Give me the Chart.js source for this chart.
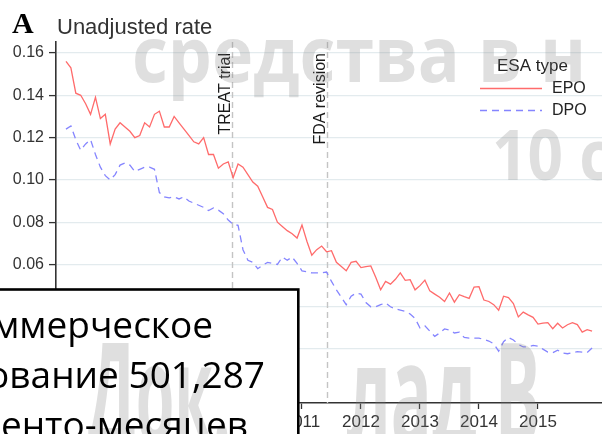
<!DOCTYPE html>
<html>
<head>
<meta charset="utf-8">
<script src="https://cdn.jsdelivr.net/npm/chart.js@4/dist/chart.umd.min.js"></script>
<style>
  html, body { margin: 0; padding: 0; background: #fff; }
  #wrap { position: relative; width: 602px; height: 434px; overflow: hidden; }
</style>
</head>
<body>
<div id="wrap"><canvas id="chart" width="602" height="434"></canvas></div>
<script>
// Monthly unadjusted rate, Jan 2007 - Dec 2015
const startYear = 2007;
const epoRate = [
    0.156, 0.153, 0.141, 0.140, 0.136, 0.131, 0.139, 0.129, 0.131, 0.117, 0.124, 0.127,
    0.125, 0.123, 0.120, 0.121, 0.127, 0.125, 0.131, 0.1325, 0.125, 0.125, 0.130, 0.127,
    0.124, 0.121, 0.118, 0.117, 0.120, 0.112, 0.112, 0.1055, 0.1075, 0.1085, 0.101, 0.1075,
    0.106, 0.1025, 0.099, 0.097, 0.092, 0.087, 0.086, 0.080, 0.078, 0.076, 0.0745, 0.0725,
    0.0787, 0.071, 0.0644, 0.067, 0.0687, 0.066, 0.0665, 0.061, 0.059, 0.057, 0.061, 0.0615,
    0.0585, 0.059, 0.0593, 0.054, 0.048, 0.052, 0.0507, 0.053, 0.056, 0.0525, 0.0528, 0.048,
    0.050, 0.0526, 0.0475, 0.046, 0.0445, 0.0425, 0.0465, 0.0422, 0.0457, 0.0448, 0.044, 0.0493,
    0.0495, 0.0432, 0.0425, 0.041, 0.0384, 0.045, 0.0443, 0.0415, 0.0352, 0.0375, 0.0362, 0.035,
    0.0318, 0.0323, 0.0325, 0.0296, 0.0322, 0.030, 0.0315, 0.0325, 0.0316, 0.028, 0.0292, 0.0285
];
const dpoRate = [
    0.124, 0.1255, 0.119, 0.114, 0.117, 0.119, 0.112, 0.106, 0.102, 0.100, 0.1025, 0.107,
    0.108, 0.107, 0.104, 0.105, 0.106, 0.106, 0.105, 0.094, 0.092, 0.0915, 0.092, 0.091,
    0.092, 0.090, 0.089, 0.088, 0.087, 0.0855, 0.0867, 0.0857, 0.084, 0.081, 0.079, 0.0785,
    0.067, 0.062, 0.061, 0.058, 0.0597, 0.061, 0.0605, 0.060, 0.0635, 0.062, 0.0635, 0.0605,
    0.057, 0.0565, 0.056, 0.056, 0.056, 0.0564, 0.052, 0.048, 0.0445, 0.041, 0.045, 0.0465,
    0.046, 0.042, 0.040, 0.040, 0.041, 0.0418, 0.040, 0.039, 0.0384, 0.0378, 0.0366, 0.0345,
    0.030, 0.031, 0.0285, 0.026, 0.0276, 0.0295, 0.029, 0.0276, 0.028, 0.0255, 0.0252, 0.0252,
    0.0252, 0.0245, 0.0238, 0.0225, 0.019, 0.0235, 0.0255, 0.0243, 0.0222, 0.021, 0.021, 0.0217,
    0.0214, 0.020, 0.0186, 0.0183, 0.0195, 0.0181, 0.0178, 0.0183, 0.0188, 0.0186, 0.0184, 0.0205
];
const seriesNames = ['EPO', 'DPO'];
const yTicks = [0.02, 0.04, 0.06, 0.08, 0.10, 0.12, 0.14, 0.16];
const xTicks = [2007, 2008, 2009, 2010, 2011, 2012, 2013, 2014, 2015];
const eventNames = ['TREAT trial', 'FDA revision'];
const eventDates = [2009.81, 2011.42];
const boxLines = ['Коммерческое', 'страхование 501,287', 'пациенто-месяцев'];

function toPoints(values) {
    return values.map((v, i) => ({ x: startYear + i / 12, y: v }));
}

// Vertical dashed event lines with rotated labels
const eventLines = {
    id: 'eventLines',
    beforeDatasetsDraw(chart) {
        const ctx = chart.ctx;
        const area = chart.chartArea;
        const xs = chart.scales.x;
        ctx.save();
        eventDates.forEach((d, i) => {
            const px = Math.round(xs.getPixelForValue(d)) + 0.5;
            ctx.strokeStyle = '#c4c4c4';
            ctx.lineWidth = 1.4;
            ctx.setLineDash([6, 4]);
            ctx.beginPath();
            ctx.moveTo(px, area.top);
            ctx.lineTo(px, area.bottom);
            ctx.stroke();
            ctx.setLineDash([]);
            ctx.save();
            ctx.translate(px - 3, 53);
            ctx.rotate(-Math.PI / 2);
            ctx.font = '16px "Liberation Sans", Arial, sans-serif';
            ctx.fillStyle = '#1a1a1a';
            ctx.textAlign = 'right';
            ctx.textBaseline = 'alphabetic';
            ctx.fillText(eventNames[i], 0, 0);
            ctx.restore();
        });
        ctx.restore();
    }
};

// Title, legend, slide overlay
const overlay = {
    id: 'overlay',
    afterDraw(chart) {
        const ctx = chart.ctx;
        ctx.save();
        ctx.textAlign = 'left';
        ctx.textBaseline = 'alphabetic';
        ctx.fillStyle = '#000';
        ctx.font = 'bold 30px "Liberation Serif", serif';
        ctx.fillText('A', 12, 33);
        ctx.fillStyle = '#333';
        ctx.font = '22px "Liberation Sans", Arial, sans-serif';
        ctx.fillText('Unadjusted rate', 57, 34);

        // legend
        ctx.font = '17px "Liberation Sans", Arial, sans-serif';
        ctx.fillStyle = '#222';
        ctx.fillText('ESA type', 497, 71);
        const ds = chart.data.datasets;
        [88, 110].forEach((ly, i) => {
            ctx.strokeStyle = ds[i].borderColor;
            ctx.lineWidth = 1.4;
            ctx.setLineDash(ds[i].borderDash || []);
            ctx.beginPath();
            ctx.moveTo(480, ly + 0.5);
            ctx.lineTo(542, ly + 0.5);
            ctx.stroke();
            ctx.setLineDash([]);
            ctx.font = '16px "Liberation Sans", Arial, sans-serif';
            ctx.textBaseline = 'middle';
            ctx.fillStyle = '#222';
            ctx.fillText(ds[i].label, 552, ly + 1);
        });

        // text box
        ctx.fillStyle = '#fff';
        ctx.fillRect(-10, 289, 309, 160);
        ctx.strokeStyle = '#000';
        ctx.lineWidth = 2.6;
        ctx.strokeRect(-10, 289.5, 308.3, 160);

        // watermark
        ctx.fillStyle = 'rgba(128,128,128,0.25)';
        ctx.textBaseline = 'alphabetic';
        drawStretched(ctx, 'средства в н', 'средства', 132, 82, 328, 42 / 0.545);
        drawStretched(ctx, '10 с', '10', 492, 180, 71, 50 / 0.714);
        drawStretched(ctx, 'Док.', 'Док', 88, 446, 125, 102 / 0.714);
        drawStretched(ctx, 'лад В', 'лад', 347, 446, 130, 102 / 0.714);

        // box text
        ctx.fillStyle = '#000';
        ctx.font = '37px "Open Sans", sans-serif';
        ctx.textAlign = 'right';
        const rights = [213, 265, 248];
        const bases = [338, 388, 438];
        boxLines.forEach((t, i) => ctx.fillText(t, rights[i], bases[i]));
        ctx.restore();
    }
};

// draw text scaled so that `ref` spans `w` px and em is `em` px tall
function drawStretched(ctx, text, ref, x, base, w, em) {
    ctx.save();
    ctx.font = 'bold 100px "Open Sans", sans-serif';
    const sx = w / ctx.measureText(ref).width;
    const sy = em / 100;
    ctx.translate(x, base);
    ctx.scale(sx, sy);
    ctx.textAlign = 'left';
    ctx.fillText(text, 0, 0);
    ctx.restore();
}

const axisColor = '#333';

new Chart(document.getElementById('chart'), {
    type: 'line',
    data: {
        datasets: [{
            label: seriesNames[0],
            data: toPoints(epoRate),
            borderColor: '#ff6b6b',
            borderWidth: 1.3,
            pointRadius: 0,
            tension: 0
        }, {
            label: seriesNames[1],
            data: toPoints(dpoRate),
            borderColor: '#8585ff',
            borderWidth: 1.3,
            borderDash: [7, 5],
            pointRadius: 0,
            tension: 0
        }]
    },
    options: {
        responsive: false,
        animation: false,
        layout: { padding: { top: 42, right: 0, left: 0, bottom: 0 } },
        plugins: {
            legend: { display: false },
            tooltip: { enabled: false }
        },
        scales: {
            x: {
                type: 'linear',
                min: 2006.831,
                max: 2016.085,
                afterBuildTicks: s => { s.ticks = xTicks.map(v => ({ value: v })); },
                afterFit: s => { s.height = 31; },
                ticks: {
                    autoSkip: false,
                    maxRotation: 0,
                    padding: 3,
                    color: '#333',
                    font: { family: '"Liberation Sans", Arial, sans-serif', size: 17 },
                    callback: v => String(v)
                },
                grid: { drawOnChartArea: false, tickLength: 6, tickColor: axisColor, tickWidth: 1.3 },
                border: { color: axisColor, width: 1.6 }
            },
            y: {
                min: -0.0055,
                max: 0.1652,
                afterBuildTicks: s => { s.ticks = yTicks.map(v => ({ value: v })); },
                afterFit: s => { s.width = 56; },
                ticks: {
                    padding: 5,
                    color: '#333',
                    font: { family: '"Liberation Sans", Arial, sans-serif', size: 16 },
                    callback: v => v.toFixed(2)
                },
                grid: { color: '#e3ebee', lineWidth: 1.2, tickLength: 7, tickColor: axisColor, tickWidth: 1.3 },
                border: { color: axisColor, width: 1.6 }
            }
        }
    },
    plugins: [eventLines, overlay]
});
</script>
</body>
</html>
